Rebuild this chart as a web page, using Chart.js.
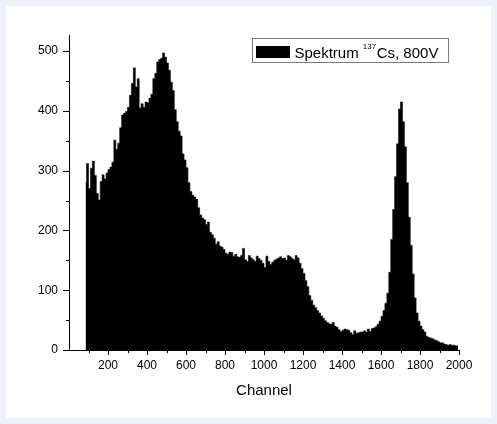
<!DOCTYPE html>
<html>
<head>
<meta charset="utf-8">
<script src="https://cdn.jsdelivr.net/npm/chart.js@4/dist/chart.umd.min.js"></script>
<style>
  html, body { margin: 0; padding: 0; background: #eef3fa; }
  #frame { position: relative; width: 497px; height: 424px; overflow: hidden; }
  #panel { position: absolute; left: 6px; top: 6px; width: 485px; height: 412px; background: #ffffff; }
  #spectrum { position: absolute; left: 0; top: 0; }
</style>
</head>
<body>
<div id="frame">
  <div id="panel"></div>
  <canvas id="spectrum" width="497" height="424"></canvas>
</div>
<script>
// 137Cs pulse-height spectrum at 800 V, counts per 10-channel bin.
// Bins start at channel 80; each bin covers 10 channels.
const binStart = 80;
const binWidth = 10;

// channels 80 - 590 (backscatter region and low-energy hump)
const countsLow = [
  280, 312, 270, 304, 316, 292, 262, 251, 282, 293,
  286, 296, 302, 306, 314, 351, 336, 346, 372, 393,
  396, 399, 406, 426, 446, 472, 440, 454, 405, 412,
  406, 415, 414, 421, 428, 454, 463, 482, 486, 488,
  497, 490, 480, 468, 448, 434, 402, 382, 366, 358,
  328, 318
];

// channels 600 - 1190 (Compton continuum)
const countsCompton = [
  305, 280, 265, 259, 256, 252, 238, 226, 221, 218,
  210, 214, 197, 193, 187, 177, 181, 174, 172, 168,
  162, 160, 164, 163, 157, 160, 156, 155, 158, 170,
  151, 148, 158, 154, 151, 148, 157, 153, 150, 145,
  138, 157, 148, 143, 147, 150, 152, 154, 156, 153,
  154, 150, 158, 156, 153, 151, 158, 154, 145, 136
];

// channels 1200 - 1990 (Compton edge, valley and photopeak)
const countsPeak = [
  128, 116, 106, 91, 83, 75, 71, 66, 62, 57,
  53, 49, 46, 44, 43, 46, 40, 38, 34, 31,
  33, 35, 34, 33, 29, 26, 32, 28, 29, 30,
  30, 32, 30, 35, 31, 36, 37, 39, 43, 48,
  56, 66, 78, 95, 130, 185, 235, 290, 345, 403,
  415, 382, 340, 280, 222, 175, 127, 87, 62, 48,
  40, 34, 30, 23, 21, 20, 19, 17, 16, 14,
  12, 12, 10, 9, 8, 9, 8, 8, 7, 7
];

const xTickLabels = [200, 400, 600, 800, 1000, 1200, 1400, 1600, 1800, 2000];
const yTickLabels = [0, 100, 200, 300, 400, 500];

const seriesLabel = { main: 'Spektrum ', sup: '137', tail: 'Cs, 800V' };

const counts = countsLow.concat(countsCompton, countsPeak);
const points = counts.map((c, i) => ({ x: binStart + binWidth * i + binWidth / 2, y: c }));

const FONT = '"Liberation Sans", Arial, Helvetica, sans-serif';

// Outward tick marks: long at labelled values, short halfway between
const axisTicks = {
  id: 'axisTicks',
  afterDraw(chart) {
    const { ctx } = chart;
    const xs = chart.scales.x, ys = chart.scales.y;
    ctx.save();
    ctx.strokeStyle = '#000';
    ctx.lineWidth = 1;
    ctx.beginPath();
    const yStep = yTickLabels[1] - yTickLabels[0];
    yTickLabels.forEach(v => {
      const py = Math.round(ys.getPixelForValue(v)) + 0.5;
      ctx.moveTo(ys.right - 6, py); ctx.lineTo(ys.right, py);
      if (v + yStep / 2 <= yTickLabels[yTickLabels.length - 1]) {
        const pm = Math.round(ys.getPixelForValue(v + yStep / 2)) + 0.5;
        ctx.moveTo(ys.right - 3, pm); ctx.lineTo(ys.right, pm);
      }
    });
    const xStep = xTickLabels[1] - xTickLabels[0];
    xTickLabels.forEach(v => {
      const px = Math.round(xs.getPixelForValue(v)) + 0.5;
      ctx.moveTo(px, xs.top); ctx.lineTo(px, xs.top + 5);
      const pm = Math.round(xs.getPixelForValue(v - xStep / 2)) + 0.5;
      ctx.moveTo(pm, xs.top); ctx.lineTo(pm, xs.top + 3);
    });
    ctx.stroke();
    ctx.restore();
  }
};

// Boxed legend with superscript isotope mass number
const boxedLegend = {
  id: 'boxedLegend',
  afterDraw(chart) {
    const { ctx } = chart;
    const ds = chart.data.datasets[0];
    ctx.save();
    ctx.strokeStyle = '#7a7a7a';
    ctx.lineWidth = 1;
    ctx.strokeRect(252.5, 38.5, 196, 24);
    ctx.fillStyle = ds.backgroundColor;
    ctx.fillRect(256, 46, 34, 12);
    ctx.fillStyle = '#000';
    ctx.textBaseline = 'alphabetic';
    ctx.font = '15px ' + FONT;
    let x = 294.5;
    ctx.fillText(seriesLabel.main, x, 57.5);
    x += ctx.measureText(seriesLabel.main).width;
    ctx.font = '8px ' + FONT;
    ctx.fillText(seriesLabel.sup, x, 48.5);
    x += ctx.measureText(seriesLabel.sup).width + 0.5;
    ctx.font = '15px ' + FONT;
    ctx.fillText(seriesLabel.tail, x, 57.5);
    ctx.restore();
  }
};

new Chart(document.getElementById('spectrum'), {
  type: 'line',
  data: {
    datasets: [{
      label: seriesLabel.main + seriesLabel.sup + seriesLabel.tail,
      data: points,
      stepped: 'middle',
      fill: 'origin',
      backgroundColor: '#000000',
      borderColor: '#000000',
      borderWidth: 0.6,
      pointRadius: 0,
      pointHoverRadius: 0
    }]
  },
  options: {
    responsive: false,
    animation: false,
    devicePixelRatio: 1,
    layout: { padding: { left: 0, top: 35, right: 38, bottom: 0 } },
    plugins: {
      legend: { display: false },
      tooltip: { enabled: false }
    },
    scales: {
      x: {
        type: 'linear',
        min: 0,
        max: 2000,
        offset: false,
        grid: { display: false, drawTicks: true, tickLength: 5 },
        border: { display: true, color: '#000', width: 1 },
        afterBuildTicks(scale) { scale.ticks = xTickLabels.map(v => ({ value: v })); },
        afterFit(scale) { scale.height = 74; },
        ticks: {
          autoSkip: false,
          maxRotation: 0,
          padding: 3,
          color: '#000',
          font: { family: FONT, size: 12 },
          callback: v => String(v)
        },
        title: {
          display: true,
          text: 'Channel',
          color: '#000',
          font: { family: FONT, size: 15 },
          padding: { top: 0, bottom: 24 }
        }
      },
      y: {
        min: 0,
        max: 527,
        grid: { display: false, drawTicks: true, tickLength: 6 },
        border: { display: true, color: '#000', width: 1 },
        afterBuildTicks(scale) { scale.ticks = yTickLabels.map(v => ({ value: v })); },
        afterFit(scale) { scale.width = 69; },
        ticks: {
          autoSkip: false,
          padding: 5,
          color: '#000',
          font: { family: FONT, size: 12 },
          callback: v => String(v)
        }
      }
    }
  },
  plugins: [axisTicks, boxedLegend]
});
</script>
</body>
</html>
